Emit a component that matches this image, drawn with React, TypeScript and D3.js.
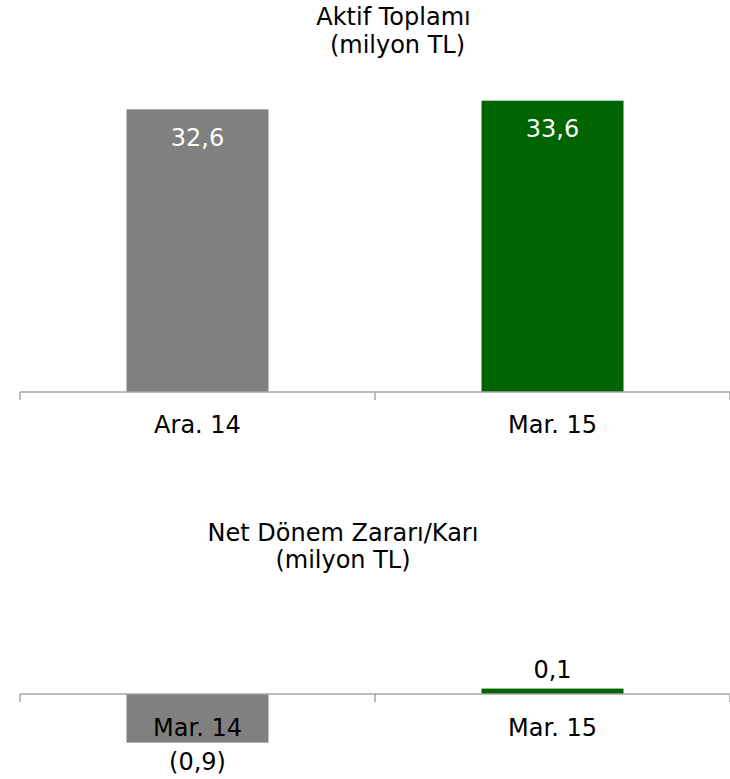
import React from "react";
import * as d3 from "d3";

const topCategories = ["Ara. 14", "Mar. 15"];
const topValues = [32.6, 33.6];
const topLabels = ["32,6", "33,6"];
const bottomCategories = ["Mar. 14", "Mar. 15"];
const bottomValues = [-0.9, 0.1];
const bottomLabels = ["(0,9)", "0,1"];
const colors = ["#808080", "#006400"];

const W = 730;
const H = 779;
const FONT = "'DejaVu Sans', Verdana, sans-serif";
const FS = 24;

export default function App() {
  const x = d3.scaleBand<string>().domain(["0", "1"]).range([20, 730]).padding(0);
  const bw = x.bandwidth() * 0.4;

  const yTop = d3.scaleLinear().domain([0, 35]).range([392, 392 - 35 * 8.67]);
  const yBot = d3.scaleLinear().domain([-1, 1]).range([694 + 54, 694 - 54]);

  const ticks = [20, 375, 730];

  return (
    <svg width={W} height={H} style={{ position: "absolute", left: 0, top: 0 }} fontFamily={FONT}>
      {/* Top chart */}
      <text x={393.5} y={25} textAnchor="middle" fontSize={FS} fill="#000">Aktif Toplamı</text>
      <text x={397.5} y={53} textAnchor="middle" fontSize={FS} fill="#000">(milyon TL)</text>
      {topValues.map((v, i) => {
        const cx = x(String(i))! + x.bandwidth() / 2;
        return (
          <g key={"t" + i}>
            <rect x={cx - bw / 2} y={yTop(v)} width={bw} height={yTop(0) - yTop(v)} fill={colors[i]} />
            <text x={cx} y={yTop(v) + 36.5} textAnchor="middle" fontSize={FS} fill="#fff">{topLabels[i]}</text>
            <text x={cx} y={433} textAnchor="middle" fontSize={FS} fill="#000">{topCategories[i]}</text>
          </g>
        );
      })}
      <line x1={20} x2={730} y1={yTop(0)} y2={yTop(0)} stroke="#a6a6a6" strokeWidth={1.5} />
      {ticks.map((t, i) => (
        <line key={"tt" + i} x1={t} x2={t} y1={yTop(0)} y2={yTop(0) + 8} stroke="#a6a6a6" strokeWidth={1.5} />
      ))}

      {/* Bottom chart */}
      <text x={343} y={541} textAnchor="middle" fontSize={FS} fill="#000">Net Dönem Zararı/Karı</text>
      <text x={343} y={568} textAnchor="middle" fontSize={FS} fill="#000">(milyon TL)</text>
      {bottomValues.map((v, i) => {
        const cx = x(String(i))! + x.bandwidth() / 2;
        const y0 = yBot(Math.max(0, v));
        const y1 = yBot(Math.min(0, v));
        return (
          <g key={"b" + i}>
            <rect x={cx - bw / 2} y={y0} width={bw} height={y1 - y0} fill={colors[i]} />
            <text
              x={cx}
              y={v >= 0 ? yBot(v) - 10.5 : yBot(v) + 27}
              textAnchor="middle"
              fontSize={FS}
              fill="#000"
            >
              {bottomLabels[i]}
            </text>
            <text x={cx} y={736} textAnchor="middle" fontSize={FS} fill="#000">{bottomCategories[i]}</text>
          </g>
        );
      })}
      <line x1={20} x2={730} y1={yBot(0)} y2={yBot(0)} stroke="#a6a6a6" strokeWidth={1.5} />
      {ticks.map((t, i) => (
        <line key={"bt" + i} x1={t} x2={t} y1={yBot(0)} y2={yBot(0) + 8} stroke="#a6a6a6" strokeWidth={1.5} />
      ))}
    </svg>
  );
}
